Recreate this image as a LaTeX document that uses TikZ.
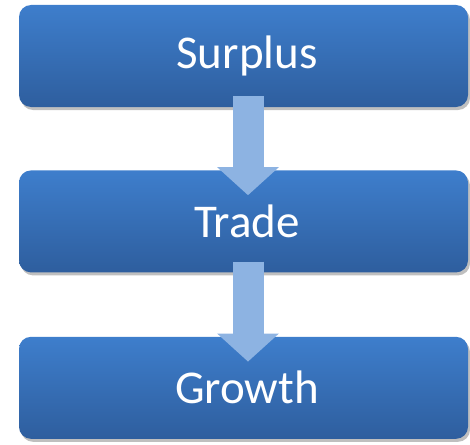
\documentclass[tikz,border=0pt]{standalone}
\usepackage{fontspec}
\setmainfont{Carlito}
\usepackage{tikz}
\usetikzlibrary{positioning,shadows,arrows.meta,calc}

\definecolor{boxtop}{RGB}{62,126,204}
\definecolor{boxbottom}{RGB}{46,94,158}
\definecolor{arrowblue}{RGB}{141,179,226}

\begin{document}
\begin{tikzpicture}[
    stepbox/.style={rounded corners=12pt, minimum width=449pt, minimum height=102pt,
        top color=boxtop, bottom color=boxbottom, text=white,
        font=\fontsize{47}{56}\selectfont, execute at begin node=\hspace*{7pt},
        drop shadow={shadow xshift=2pt, shadow yshift=-3pt, opacity=0.25, fill=black}},
    flowarrow/.style={arrowblue, line width=31pt, -{Triangle[width=60pt,length=28pt]}}
]
    \useasboundingbox (0,0) rectangle (470pt,-444pt);

    % Boxes
    \node[stepbox] (surplus) at (243.5pt,-56pt) {Surplus};
    \node[stepbox, below=63pt of surplus] (trade) {Trade};
    \node[stepbox, below=64pt of trade] (growth) {Growth};

    % Block arrows between boxes
    \foreach \from/\to in {surplus/trade, trade/growth} {
        \draw[flowarrow] ($(\from.south)+(4.5pt,11pt)$) -- ($(\to.north)+(4.5pt,-25pt)$);
    }
\end{tikzpicture}
\end{document}
